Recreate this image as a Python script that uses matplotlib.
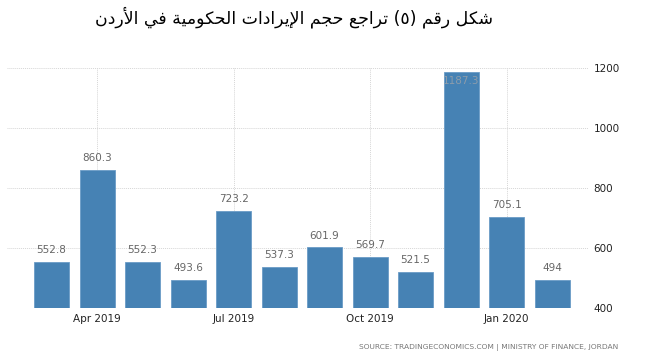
import matplotlib
matplotlib.use("Agg")
import matplotlib.pyplot as plt

# data (Mar 2019 .. Feb 2020)
months = ["Mar 2019", "Apr 2019", "May 2019", "Jun 2019", "Jul 2019", "Aug 2019",
          "Sep 2019", "Oct 2019", "Nov 2019", "Dec 2019", "Jan 2020", "Feb 2020"]
revenue = [552.8, 860.3, 552.3, 493.6, 723.2, 537.3, 601.9, 569.7, 521.5, 1187.3, 705.1, 494]
value_labels = ["552.8", "860.3", "552.3", "493.6", "723.2", "537.3",
                "601.9", "569.7", "521.5", "1187.3", "705.1", "494"]
tick_months = ["Apr 2019", "Jul 2019", "Oct 2019", "Jan 2020"]
y_ticks = [400, 600, 800, 1000, 1200]

title = "شكل رقم (٥) تراجع حجم الإيرادات الحكومية في الأردن"
source = "SOURCE: TRADINGECONOMICS.COM | MINISTRY OF FINANCE, JORDAN"

# minimal arabic shaping (matplotlib has no shaping / bidi)
FORMS = {  # iso, fin, init, med
    'ا': (0xFE8D, 0xFE8E, None, None), 'أ': (0xFE83, 0xFE84, None, None),
    'إ': (0xFE87, 0xFE88, None, None), 'ة': (0xFE93, 0xFE94, None, None),
    'د': (0xFEA9, 0xFEAA, None, None), 'ر': (0xFEAD, 0xFEAE, None, None),
    'و': (0xFEED, 0xFEEE, None, None),
    'ت': (0xFE95, 0xFE96, 0xFE97, 0xFE98), 'ج': (0xFE9D, 0xFE9E, 0xFE9F, 0xFEA0),
    'ح': (0xFEA1, 0xFEA2, 0xFEA3, 0xFEA4), 'ش': (0xFEB5, 0xFEB6, 0xFEB7, 0xFEB8),
    'ع': (0xFEC9, 0xFECA, 0xFECB, 0xFECC), 'ف': (0xFED1, 0xFED2, 0xFED3, 0xFED4),
    'ق': (0xFED5, 0xFED6, 0xFED7, 0xFED8), 'ك': (0xFED9, 0xFEDA, 0xFEDB, 0xFEDC),
    'ل': (0xFEDD, 0xFEDE, 0xFEDF, 0xFEE0), 'م': (0xFEE1, 0xFEE2, 0xFEE3, 0xFEE4),
    'ن': (0xFEE5, 0xFEE6, 0xFEE7, 0xFEE8), 'ي': (0xFEF1, 0xFEF2, 0xFEF3, 0xFEF4),
}
LAM_ALEF = {'ا': (0xFEFB, 0xFEFC), 'أ': (0xFEF7, 0xFEF8), 'إ': (0xFEF9, 0xFEFA)}


def joins_left(ch):
    return ch in FORMS and FORMS[ch][2] is not None


def shape(text):
    # merge lam + alef first
    chars = []
    i = 0
    while i < len(text):
        if text[i] == 'ل' and i + 1 < len(text) and text[i + 1] in LAM_ALEF:
            chars.append(('LA', text[i + 1]))
            i += 2
        else:
            chars.append(('C', text[i]))
            i += 1
    out = []
    for k, (kind, ch) in enumerate(chars):
        prev = chars[k - 1] if k > 0 else None
        nxt = chars[k + 1] if k + 1 < len(chars) else None
        p_join = prev is not None and prev[0] == 'C' and joins_left(prev[1])
        if kind == 'LA':
            out.append(chr(LAM_ALEF[ch][1 if p_join else 0]))
            continue
        if ch not in FORMS:
            out.append(ch)
            continue
        iso, fin, ini, med = FORMS[ch]
        n_join = ini is not None and nxt is not None and (nxt[0] == 'LA' or nxt[1] in FORMS)
        if p_join and n_join:
            out.append(chr(med))
        elif p_join:
            out.append(chr(fin))
        elif n_join:
            out.append(chr(ini))
        else:
            out.append(chr(iso))
    vis = ''.join(out)[::-1]
    return vis.translate(str.maketrans('()', ')('))


x = list(range(len(months)))

fig = plt.figure(figsize=(6.47, 3.62), dpi=100)
ax = fig.add_axes([0.0108, 0.149, 0.8980, 0.663])

ax.bar(x, revenue, width=0.77, bottom=0, color='#4682b4', edgecolor='#6b9cc6',
       linewidth=0.6, zorder=2)
ax.set_ylim(400, 1200)
ax.set_xlim(-0.98, 11.79)

for xi, v, lab in zip(x, revenue, value_labels):
    if v > 1150:
        # no room above the top bar: label goes inside it
        ax.annotate(lab, (xi, v), xytext=(0, -3), textcoords='offset points',
                    ha='center', va='top', fontsize=7.5, color='#8c9cab', zorder=3)
    else:
        ax.annotate(lab, (xi, v), xytext=(0, 5), textcoords='offset points',
                    ha='center', va='bottom', fontsize=7.5, color='#666666', zorder=3)

ax.set_xticks([months.index(m) for m in tick_months])
ax.set_xticklabels(tick_months, fontsize=7.5, color='#222222')
ax.set_yticks(y_ticks)
ax.set_yticklabels([str(t) for t in y_ticks], fontsize=7.5, color='#222222')
ax.yaxis.tick_right()
ax.tick_params(axis='both', length=0)
ax.tick_params(axis='y', pad=4)
ax.tick_params(axis='x', pad=4)

ax.grid(True, color='#d6d6d6', linestyle=(0, (1, 1)), linewidth=0.7, zorder=0)
for s in ax.spines.values():
    s.set_visible(False)

fig.text(0.955, 0.04, source, ha='right', va='center', fontsize=5.4, color='#777777')
fig.text(0.455, 0.952, shape(title), ha='center', va='center', fontsize=12.5,
         color='black', family='DejaVu Sans')

fig.savefig('out.png', dpi=100, facecolor='white')
